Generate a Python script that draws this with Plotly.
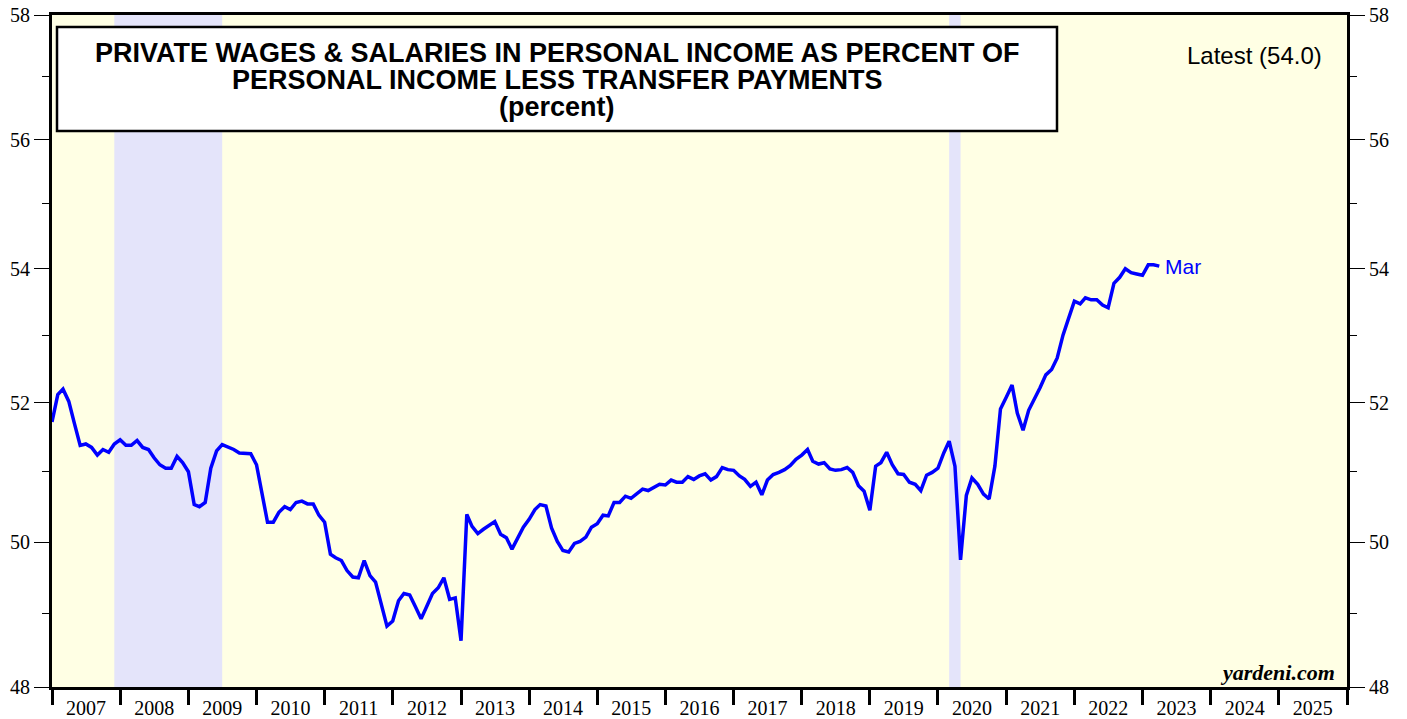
import numpy as np
import pandas as pd
import plotly.graph_objects as go

# Monthly data: Dec 2006 .. Mar 2023 (percent)
months = pd.period_range("2006-12", "2023-03", freq="M")
share = [
    51.72, 52.12, 52.20, 52.02, 51.70, 51.38, 51.40, 51.35, 51.24, 51.32, 51.28, 51.40,
    51.46, 51.38, 51.38, 51.45, 51.35, 51.32, 51.20, 51.10, 51.05, 51.05, 51.22, 51.13,
    51.00, 50.53, 50.50, 50.56, 51.05, 51.30, 51.39, 51.36, 51.32, 51.27, 51.27, 51.26,
    51.10, 50.65, 50.28, 50.28, 50.42, 50.50, 50.46, 50.56, 50.58, 50.54, 50.54, 50.38,
    50.28, 49.83, 49.78, 49.74, 49.60, 49.51, 49.50, 49.74, 49.53, 49.44, 49.12, 48.83,
    48.90, 49.18, 49.28, 49.26, 49.10, 48.93, 49.10, 49.28, 49.36, 49.50, 49.20, 49.22,
    48.63, 50.39, 50.22, 50.12, 50.18, 50.23, 50.29, 50.11, 50.06, 49.90, 50.06, 50.21,
    50.32, 50.46, 50.53, 50.51, 50.20, 50.01, 49.88, 49.86, 49.98, 50.01, 50.07, 50.21,
    50.26, 50.38, 50.37, 50.56, 50.56, 50.65, 50.62, 50.68, 50.75, 50.73, 50.78, 50.82,
    50.81, 50.88, 50.85, 50.85, 50.93, 50.89, 50.94, 50.97, 50.88, 50.93, 51.06, 51.03,
    51.02, 50.94, 50.89, 50.79, 50.85, 50.67, 50.88, 50.96, 50.99, 51.03, 51.09, 51.18,
    51.24, 51.32, 51.15, 51.11, 51.13, 51.04, 51.02, 51.03, 51.06, 50.99, 50.80, 50.72,
    50.45, 51.08, 51.13, 51.28, 51.10, 50.97, 50.96, 50.85, 50.82, 50.73, 50.95, 50.99,
    51.05, 51.27, 51.44, 51.08, 49.75, 50.66, 50.91, 50.82, 50.68, 50.61, 51.08, 51.91,
    52.08, 52.26, 51.85, 51.60, 51.89, 52.05, 52.22, 52.41, 52.49, 52.66, 53.00, 53.25,
    53.51, 53.47, 53.56, 53.53, 53.53, 53.45, 53.41, 53.78, 53.87, 54.00, 53.94, 53.92,
    53.90, 54.06, 54.06, 54.04,
]
years = list(range(2007, 2026))
y_ticks = [48, 50, 52, 54, 56, 58]
y_minor = [49, 51, 53, 55, 57]
recessions = [("2007-12-01", "2009-07-01"), ("2020-03-01", "2020-05-01")]
title_lines = ["PRIVATE WAGES & SALARIES IN PERSONAL INCOME AS PERCENT OF",
               "PERSONAL INCOME LESS TRANSFER PAYMENTS",
               "(percent)"]
latest_label = "Latest (54.0)"
last_month_label = "Mar"

x_dates = (months + 1).to_timestamp()  # plotted at month end

SERIF = "Liberation Serif, Times New Roman, serif"
SANS = "Liberation Sans, Arial, sans-serif"

fig = go.Figure()
fig.add_trace(go.Scatter(x=x_dates, y=share, yaxis="y2", mode="lines",
                         line=dict(width=0, color="rgba(0,0,0,0)"), opacity=0,
                         hoverinfo="skip", showlegend=False))
fig.add_trace(go.Scatter(x=x_dates, y=share, mode="lines",
                         line=dict(color="#0000FF", width=3.5), showlegend=False))

for a, b in recessions:
    fig.add_shape(type="rect", xref="x", yref="paper", x0=a, x1=b, y0=0, y1=1,
                  fillcolor="#E4E4FA", line=dict(width=0), layer="below")

W, H = 1407, 719
L, R, T, B = 52, 60, 15, 32
pw, ph = W - L - R, H - T - B


def px(xp):
    return (xp - L) / pw


def py(yp):
    return (H - B - yp) / ph


# title box
fig.add_shape(type="rect", xref="paper", yref="paper",
              x0=px(57), x1=px(1057), y0=py(131), y1=py(27),
              fillcolor="white", line=dict(color="black", width=2.5), layer="above")
for i, line in enumerate(title_lines):
    fig.add_annotation(xref="paper", yref="paper", x=px(557), y=py(53 + 27 * i),
                       text=f"<b>{line}</b>", showarrow=False,
                       xanchor="center", yanchor="middle",
                       font=dict(family=SANS, size=27, color="black"))
fig.add_annotation(xref="paper", yref="paper", x=px(1324), y=py(55),
                   text=latest_label, showarrow=False, xanchor="right", yanchor="middle",
                   font=dict(family=SANS, size=24, color="black"))
fig.add_annotation(xref="paper", yref="paper", x=px(1337), y=py(672),
                   text="<b><i>yardeni.com</i></b>", showarrow=False,
                   xanchor="right", yanchor="middle",
                   font=dict(family=SERIF, size=22, color="black"))
fig.add_annotation(x=x_dates[-1], y=np.log10(share[-1]), text=last_month_label,
                   showarrow=False, xanchor="left", yanchor="middle", xshift=4,
                   font=dict(family=SANS, size=21, color="#0000FF"))

yax = dict(type="log", range=[np.log10(48), np.log10(58)], tickmode="array",
           tickvals=y_ticks, ticktext=[str(v) for v in y_ticks],
           ticks="outside", ticklen=15, tickwidth=1, tickcolor="black",
           minor=dict(tickmode="array", tickvals=y_minor, ticks="outside",
                      ticklen=7, tickwidth=1, tickcolor="black", showgrid=False),
           showgrid=False, zeroline=False, showline=True, linewidth=3, linecolor="black",
           tickfont=dict(family=SERIF, size=20, color="black"), fixedrange=True,
           automargin=False)

fig.update_layout(
    width=W, height=H,
    margin=dict(l=L, r=R, t=T, b=B, autoexpand=False),
    paper_bgcolor="white", plot_bgcolor="#FFFFE4",
    showlegend=False,
    xaxis=dict(type="date", range=["2007-01-01", "2026-01-01"], tickmode="array",
               tickvals=[f"{y}-07-02" for y in years], ticktext=[str(y) for y in years],
               ticks="", showgrid=False, zeroline=False, automargin=False,
               ticklabelstandoff=1,
               minor=dict(tickmode="array", tickvals=[f"{y}-01-01" for y in range(2007, 2027)],
                          ticks="outside", ticklen=15, tickwidth=3, tickcolor="black",
                          showgrid=False),
               showline=True, linewidth=3, linecolor="black", mirror=True,
               tickfont=dict(family=SERIF, size=20, color="black")),
    yaxis=dict(**yax, side="left", mirror=True),
    yaxis2=dict(**yax, side="right", overlaying="y"),
)

fig.write_html("out.html", config={"displayModeBar": False},
               post_script="document.body.style.margin='0';"
                           "document.body.style.overflow='hidden';")
